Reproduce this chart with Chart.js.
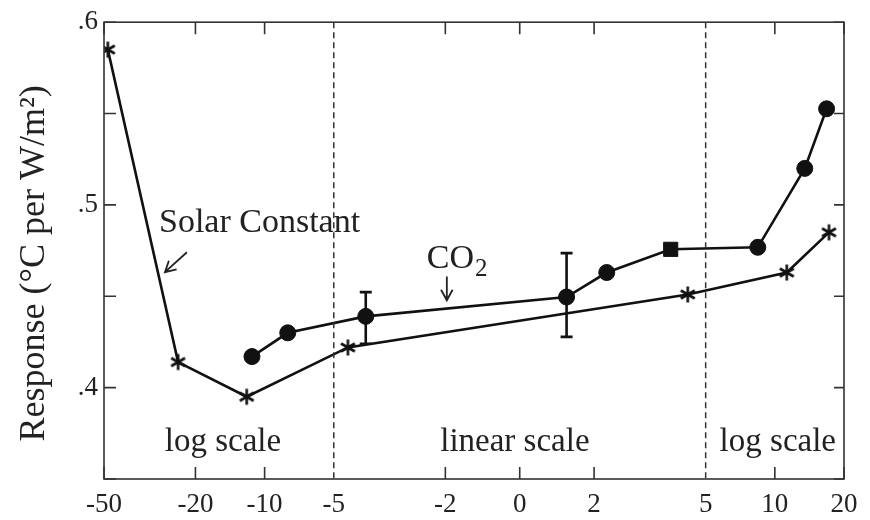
<!DOCTYPE html>
<html>
<head>
<meta charset="utf-8">
<script src="https://cdn.jsdelivr.net/npm/chart.js@4.4.0/dist/chart.umd.min.js"></script>
<style>
  html, body { margin: 0; padding: 0; background: #fff; }
</style>
</head>
<body>
<canvas id="respChart" width="870" height="520"></canvas>
<script>
// forcing values on a mixed axis: log for |x|>5, linear in between
var xTickValues = [-50, -20, -10, -5, -2, 0, 2, 5, 10, 20];
var xDashedAt = [-5, 5];
var yTickValues = [0.4, 0.5, 0.6];
var yTickLabels = ['.4', '.5', '.6'];
var yMinorTicks = [0.35, 0.4, 0.45, 0.5, 0.55, 0.6];
var yTitle = 'Response (°C per W/m²)';

var solarX = [-48.1, -23.8, -11.96, -4.62, 4.52, 11.27, 17.2];
var solarY = [0.585, 0.414, 0.395, 0.422, 0.451, 0.463, 0.485];

var co2X = [-11.35, -7.93, -4.14, 1.26, 2.34, 4.06, 8.43, 13.5, 16.8];
var co2Y = [0.417, 0.430, 0.439, 0.4496, 0.463, 0.4757, 0.4768, 0.520, 0.5526];
var co2Marker = ['circle', 'circle', 'circle', 'circle', 'circle', 'rect', 'circle', 'circle', 'circle'];

var errX = [-4.14, 1.26];
var errLow = [0.424, 0.4278];
var errHigh = [0.4523, 0.4736];

var LIN = 5, K = 1.86;
function toAxis(v) {
    if (v < -LIN) return -LIN - K * Math.log2(-v / LIN);
    if (v > LIN) return LIN + K * Math.log2(v / LIN);
    return v;
}

var ink = '#111';
var serif = '"Liberation Serif", serif';
Chart.defaults.font.family = serif;
Chart.defaults.color = '#222';

function makeStar(r, lw) {
    var c = document.createElement('canvas');
    var s = Math.ceil(2 * r + lw + 2);
    c.width = s; c.height = s;
    var g = c.getContext('2d');
    g.strokeStyle = ink;
    g.lineWidth = lw;
    g.translate(s / 2, s / 2);
    for (var i = 0; i < 3; i++) {
        var a = Math.PI / 2 + i * Math.PI / 3;
        g.beginPath();
        g.moveTo(Math.cos(a) * r, Math.sin(a) * r);
        g.lineTo(-Math.cos(a) * r, -Math.sin(a) * r);
        g.stroke();
    }
    return c;
}
var star = makeStar(8, 2.6);

function arrow(ctx, x1, y1, x2, y2) {
    var a = Math.atan2(y2 - y1, x2 - x1), h = 12;
    ctx.beginPath();
    ctx.moveTo(x1, y1); ctx.lineTo(x2, y2);
    ctx.moveTo(x2 - h * Math.cos(a - 0.5), y2 - h * Math.sin(a - 0.5));
    ctx.lineTo(x2, y2);
    ctx.lineTo(x2 - h * Math.cos(a + 0.5), y2 - h * Math.sin(a + 0.5));
    ctx.stroke();
}

var decor = {
    id: 'decor',
    afterDatasetsDraw: function(chart) {
        var ctx = chart.ctx, xs = chart.scales.x, ys = chart.scales.y;
        ctx.save();
        ctx.strokeStyle = ink;
        ctx.lineWidth = 2.6;
        for (var i = 0; i < errX.length; i++) {
            var px = xs.getPixelForValue(toAxis(errX[i]));
            var lo = ys.getPixelForValue(errLow[i]), hi = ys.getPixelForValue(errHigh[i]);
            ctx.beginPath();
            ctx.moveTo(px, lo); ctx.lineTo(px, hi);
            ctx.moveTo(px - 6, lo); ctx.lineTo(px + 6, lo);
            ctx.moveTo(px - 6, hi); ctx.lineTo(px + 6, hi);
            ctx.stroke();
        }
        ctx.restore();
    },
    afterDraw: function(chart) {
        var ctx = chart.ctx, a = chart.chartArea, xs = chart.scales.x, ys = chart.scales.y;
        ctx.save();
        // frame
        ctx.strokeStyle = '#333';
        ctx.lineWidth = 1.6;
        ctx.strokeRect(a.left, a.top, a.right - a.left, a.bottom - a.top);
        // inward ticks
        xTickValues.forEach(function(v) {
            if (xDashedAt.indexOf(v) >= 0) return;
            var px = xs.getPixelForValue(toAxis(v));
            ctx.beginPath();
            ctx.moveTo(px, a.bottom); ctx.lineTo(px, a.bottom - 12);
            ctx.moveTo(px, a.top); ctx.lineTo(px, a.top + 12);
            ctx.stroke();
        });
        yMinorTicks.forEach(function(v) {
            var py = ys.getPixelForValue(v);
            ctx.beginPath();
            ctx.moveTo(a.left, py); ctx.lineTo(a.left + 12, py);
            ctx.moveTo(a.right, py); ctx.lineTo(a.right - 10, py);
            ctx.stroke();
        });
        // dashed dividers between scales
        ctx.setLineDash([6, 4]);
        ctx.lineWidth = 1.5;
        xDashedAt.forEach(function(v) {
            var px = xs.getPixelForValue(toAxis(v));
            ctx.beginPath();
            ctx.moveTo(px, a.top); ctx.lineTo(px, a.bottom);
            ctx.stroke();
        });
        ctx.setLineDash([]);

        // y axis title, a bit below the middle like the original
        ctx.fillStyle = '#222';
        ctx.save();
        ctx.translate(35, ys.getPixelForValue(0.468));
        ctx.rotate(-Math.PI / 2);
        ctx.font = '36px ' + serif;
        ctx.textAlign = 'center';
        ctx.textBaseline = 'middle';
        ctx.fillText(yTitle, 0, 0);
        ctx.restore();

        // annotations (positions in axis units)
        ctx.strokeStyle = '#222';
        ctx.lineWidth = 1.8;
        ctx.textBaseline = 'alphabetic';
        ctx.font = '34px ' + serif;
        ctx.textAlign = 'left';
        ctx.fillText('Solar Constant', xs.getPixelForValue(-9.70), ys.getPixelForValue(0.485));
        arrow(ctx, xs.getPixelForValue(-8.95), ys.getPixelForValue(0.4741),
                   xs.getPixelForValue(-9.54), ys.getPixelForValue(0.4632));

        var cx = xs.getPixelForValue(-2.50), cy = ys.getPixelForValue(0.4654);
        ctx.fillText('CO', cx, cy);
        var w = ctx.measureText('CO').width;
        ctx.font = '25px ' + serif;
        ctx.fillText('2', cx + w + 1, cy + 8);
        var ax = xs.getPixelForValue(-1.96);
        arrow(ctx, ax, ys.getPixelForValue(0.4608), ax, ys.getPixelForValue(0.4478));

        ctx.font = '33px ' + serif;
        ctx.textAlign = 'center';
        var by = ys.getPixelForValue(0.3651);
        ctx.fillText('log scale', xs.getPixelForValue(-7.98), by);
        ctx.fillText('linear scale', xs.getPixelForValue(-0.13), by);
        ctx.fillText('log scale', xs.getPixelForValue(6.94), by);
        ctx.restore();
    }
};

var ctx = document.getElementById('respChart').getContext('2d');
var myChart = new Chart(ctx, {
    type: 'line',
    data: {
        datasets: [
            {
                label: 'Solar Constant',
                data: solarX.map(function(v, i) { return { x: toAxis(v), y: solarY[i] }; }),
                borderColor: ink,
                borderWidth: 2.6,
                pointStyle: star,
                pointRadius: 8,
                fill: false,
                tension: 0
            },
            {
                label: 'CO2',
                data: co2X.map(function(v, i) { return { x: toAxis(v), y: co2Y[i] }; }),
                borderColor: ink,
                borderWidth: 2.6,
                backgroundColor: ink,
                pointBackgroundColor: ink,
                pointBorderColor: ink,
                pointBorderWidth: 1,
                pointStyle: co2Marker,
                pointRadius: co2Marker.map(function(m) { return m === 'rect' ? 10 : 8; }),
                fill: false,
                tension: 0
            }
        ]
    },
    options: {
        responsive: false,
        animation: false,
        devicePixelRatio: 1,
        layout: { padding: { left: 0, right: 26, top: 21, bottom: 0 } },
        scales: {
            x: {
                type: 'linear',
                min: toAxis(-50),
                max: toAxis(20),
                afterBuildTicks: function(s) {
                    s.ticks = xTickValues.map(function(v) { return { value: toAxis(v) }; });
                },
                afterFit: function(s) { s.height = 41; },
                grid: { display: false, drawTicks: false },
                border: { display: false },
                ticks: {
                    autoSkip: false,
                    maxRotation: 0,
                    padding: 10,
                    color: '#222',
                    font: { family: serif, size: 27 },
                    callback: function(val, i) { return String(xTickValues[i]); }
                }
            },
            y: {
                min: 0.35,
                max: 0.6,
                afterBuildTicks: function(s) {
                    s.ticks = yTickValues.map(function(v) { return { value: v }; });
                },
                afterFit: function(s) { s.width = 104; },
                grid: { display: false, drawTicks: false },
                border: { display: false },
                ticks: {
                    padding: 6,
                    color: '#222',
                    font: { family: serif, size: 27 },
                    callback: function(val, i) { return yTickLabels[i]; }
                }
            }
        },
        plugins: {
            legend: { display: false },
            tooltip: { enabled: false }
        }
    },
    plugins: [decor]
});
</script>
</body>
</html>
